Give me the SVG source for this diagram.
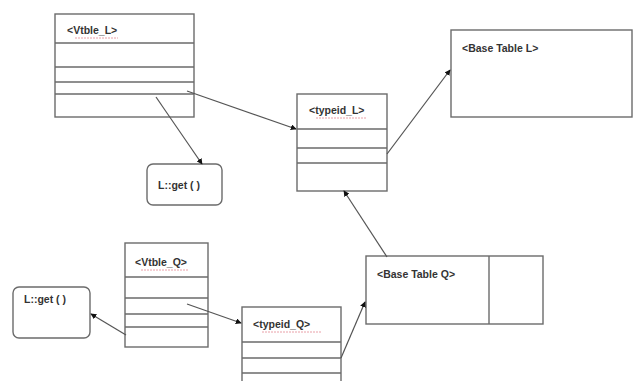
<svg xmlns="http://www.w3.org/2000/svg" width="634" height="381" viewBox="0 0 634 381">
  <defs>
    <marker id="arrow" viewBox="0 0 8 8" refX="7" refY="4" markerWidth="6" markerHeight="6" orient="auto" markerUnits="userSpaceOnUse">
      <path d="M0,0 L8,4 L0,8 z" fill="#111"/>
    </marker>
  </defs>
  <style>
    .box { fill: #fff; stroke: #6b6b6b; stroke-width: 1.4; }
    .row { stroke: #6b6b6b; stroke-width: 1.4; fill: none; }
    .lbl { font-family: "Liberation Sans", Arial, sans-serif; font-size: 10.5px; font-weight: bold; fill: #333; }
    .spell { stroke: #e9a0a8; stroke-width: 1; fill: none; stroke-dasharray: 2 1; }
    .conn { stroke: #555; stroke-width: 1.2; fill: none; }
  </style>
  <rect width="634" height="381" fill="#fff"/>

  <!-- vtable for L -->
  <g id="vtble_l">
    <rect class="box" x="55" y="14" width="139" height="103"/>
    <path class="row" d="M55,43 H194 M55,67 H194 M55,82 H194 M55,94 H194"/>
    <text class="lbl" x="67" y="34">&lt;Vtble_L&gt;</text>
    <path class="spell" d="M75,38 H118"/>
  </g>

  <!-- L::get() upper -->
  <g id="lget_top">
    <rect class="box" x="147" y="164" width="75" height="41" rx="6"/>
    <text class="lbl" x="158" y="189">L::get ( )</text>
  </g>

  <!-- typeid for L -->
  <g id="typeid_l">
    <rect class="box" x="297" y="94" width="90" height="97"/>
    <path class="row" d="M297,129 H387 M297,148 H387 M297,163 H387"/>
    <text class="lbl" x="309" y="114">&lt;typeid_L&gt;</text>
    <path class="spell" d="M316,118 H366"/>
  </g>

  <!-- base table L -->
  <g id="base_table_l">
    <rect class="box" x="451" y="30" width="181" height="87"/>
    <text class="lbl" x="462" y="52">&lt;Base Table L&gt;</text>
  </g>

  <!-- vtable for Q -->
  <g id="vtble_q">
    <rect class="box" x="125" y="243" width="83" height="104"/>
    <path class="row" d="M125,277 H208 M125,298 H208 M125,314 H208 M125,327 H208"/>
    <text class="lbl" x="135" y="266">&lt;Vtble_Q&gt;</text>
    <path class="spell" d="M141,270 H188"/>
  </g>

  <!-- L::get() lower -->
  <g id="lget_bottom">
    <rect class="box" x="13" y="287" width="77" height="51" rx="6"/>
    <text class="lbl" x="24" y="303">L::get ( )</text>
  </g>

  <!-- typeid for Q -->
  <g id="typeid_q">
    <rect class="box" x="242" y="307" width="99" height="80"/>
    <path class="row" d="M242,342 H341 M242,358 H341 M242,373 H341"/>
    <text class="lbl" x="253" y="328">&lt;typeid_Q&gt;</text>
    <path class="spell" d="M262,332 H322"/>
  </g>

  <!-- base table Q -->
  <g id="base_table_q">
    <rect class="box" x="366" y="256" width="177" height="68"/>
    <path class="row" d="M489,256 V324"/>
    <text class="lbl" x="377" y="278">&lt;Base Table Q&gt;</text>
  </g>

  <!-- connectors -->
  <g id="connectors">
    <line class="conn" x1="187" y1="91" x2="296" y2="129" marker-end="url(#arrow)"/>
    <line class="conn" x1="156" y1="97" x2="202" y2="164" marker-end="url(#arrow)"/>
    <line class="conn" x1="387" y1="154" x2="450" y2="70" marker-end="url(#arrow)"/>
    <line class="conn" x1="387" y1="257" x2="344" y2="191" marker-end="url(#arrow)"/>
    <line class="conn" x1="187" y1="304" x2="241" y2="323" marker-end="url(#arrow)"/>
    <line class="conn" x1="126" y1="335" x2="91" y2="314" marker-end="url(#arrow)"/>
    <line class="conn" x1="341" y1="358" x2="365" y2="302" marker-end="url(#arrow)"/>
  </g>
</svg>
